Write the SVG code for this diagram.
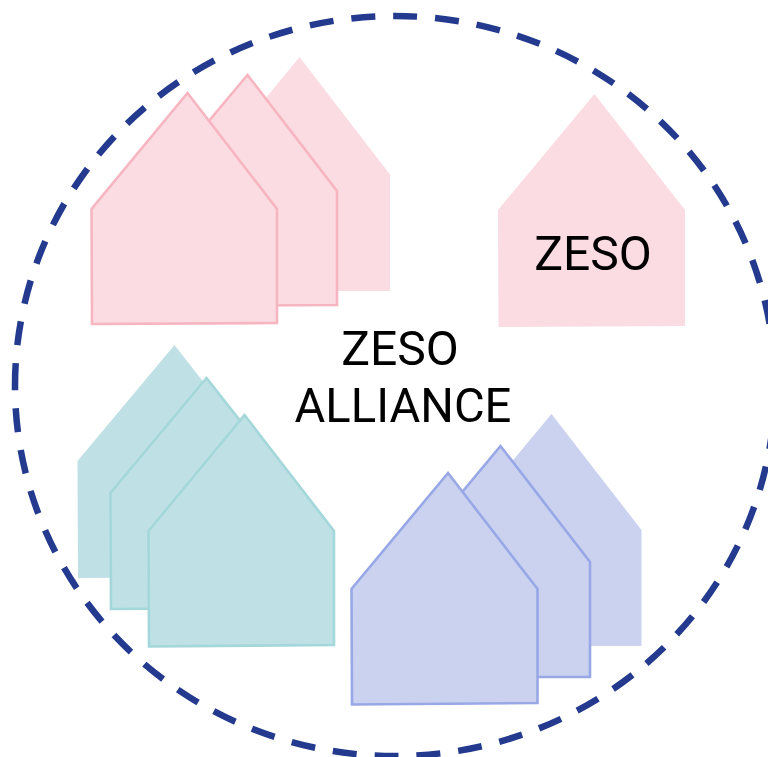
<svg xmlns="http://www.w3.org/2000/svg" width="768" height="757" viewBox="0 0 768 757">
<style>
.pink{fill:#fadce2}.pinke{stroke:#f6b5c1;stroke-width:2.6}
.teal{fill:#bfe1e5}.teale{stroke:#a4d7da;stroke-width:2.6}
.blue{fill:#cbd2f0}.bluee{stroke:#98a8e6;stroke-width:2.6}
text{font-family:Roboto,"Liberation Sans",sans-serif;font-size:48px;fill:#000;text-anchor:middle}
#label,#zeso-text{will-change:opacity}
</style>
<rect width="768" height="757" fill="#fff"/>
<g id="alliance-boundary"><path d="M15 387A380 370 0 0 1 775 385A380 370 0 0 1 15 387Z" fill="none" stroke="#233a8e" stroke-width="6.5" stroke-dasharray="24 18"/></g>
<g id="pink-house-3"><polygon class="pink" points="299.5,57 390,174.5 390,291 277,291 203,174.5"/></g>
<g id="pink-house-2"><polygon class="pink pinke" points="247.5,75 337,191 337,305 150,306 150,191"/></g>
<g id="pink-house-1"><polygon class="pink pinke" points="187.5,93 277,209 277,323 92,324 91.5,209"/></g>
<g id="zeso-house"><polygon class="pink" points="594.5,94 685,210 685,326 498.5,327 498,210"/><g id="zeso-text"><text x="593" y="270">ZESO</text></g></g>
<g id="teal-house-3"><polygon class="teal" points="174.5,345 265,461 265,577 78,578 77.5,461"/></g>
<g id="teal-house-2"><polygon class="teal teale" points="206.5,378 297,493 297,608 111,609 110.5,493"/></g>
<g id="teal-house-1"><polygon class="teal teale" points="244.5,415 334,531 334,645 149,646.5 148.5,531"/></g>
<g id="blue-house-3"><polygon class="blue" points="551.5,414 641.5,530 641.5,646 455,646 455,530"/></g>
<g id="blue-house-2"><polygon class="blue bluee" points="500.5,446 590,562 590,677 404,677 404,562"/></g>
<g id="blue-house-1"><polygon class="blue bluee" points="448,473 537.5,589 537.5,703 352,704.5 351.5,589"/></g>
<g id="label"><text x="400" y="365">ZESO</text><text x="403" y="422" style="font-size:47.2px">ALLIANCE</text></g>
</svg>
